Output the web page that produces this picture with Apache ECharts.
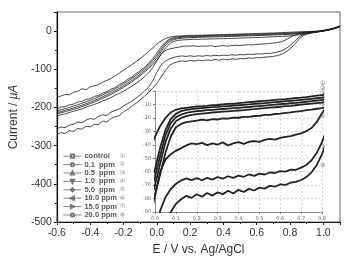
<!DOCTYPE html>
<html>
<head>
<meta charset="utf-8">
<script src="https://cdn.jsdelivr.net/npm/echarts@6/dist/echarts.min.js"></script>
<style>
  html, body { margin: 0; padding: 0; background: #fff; }
  #chart { width: 347px; height: 261px; }
</style>
</head>
<body>
<div id="chart"></div>
<script>
// potential, V vs. Ag/AgCl
const potential = [-0.6,-0.575,-0.55,-0.525,-0.5,-0.475,-0.45,-0.425,-0.4,-0.375,-0.35,-0.325,-0.3,-0.275,-0.25,-0.225,-0.2,-0.175,-0.15,-0.125,-0.1,-0.075,-0.05,-0.025,
  0,0.025,0.05,0.075,0.1,0.125,0.15,0.175,0.2,0.225,0.25,0.275,0.3,0.325,0.35,0.375,0.4,0.425,0.45,0.475,0.5,0.525,0.55,0.575,0.6,0.625,0.65,0.675,0.7,0.725,0.75,0.775,0.8,
  0.825,0.85,0.875,0.9,0.925,0.95,0.975,1,1.025,1.05,1.075,1.1];

// current, uA
const cControl = [-173,-170,-166,-167,-160,-158,-151,-154,-146,-143,-140,-134,-129,-124,-117,-110,-102,-95,-88,-80,-72,-63,-54,-44,
  -34,-26,-20,-16,-14,-13,-12.5,-12,-11.5,-11.3,-11,-10.5,-10.4,-10,-9.6,-9.5,-9,-8.7,-8.3,-8,-7.6,-7.3,-7,-6.6,-6.3,-6,-5.6,-5.2,-4.9,-4.5,-4,-3.5,-3,
  -2.5,-2,-1.6,-1.2,-0.8,-0.3,0.5,2,4,6.5,9.5,14];
const c01 = [-204,-199,-198,-193,-191,-186,-184,-179,-177,-171,-169,-162,-159,-152,-148,-140,-135,-126,-121,-111,-104,-95,-85,-72,
  -58,-42,-29,-21,-17,-15,-14,-13.5,-13,-12.7,-12.4,-12,-11.8,-11.5,-11.2,-10.9,-10.6,-10.3,-10,-9.6,-9.3,-9,-8.6,-8.3,-8,-7.6,-7.3,-7,-6.6,-6.2,-5.8,-5.4,-5,
  -4.5,-3.8,-3.2,-2.5,-1.8,-1,0,1.5,3.5,6,9,13];
const c05 = [-209,-206,-203,-200,-196,-193,-189,-185,-181,-177,-172,-167,-162,-157,-151,-145,-138,-131,-124,-116,-108,-99,-89,-77,
  -64,-48,-33,-24,-19.5,-17.5,-16.3,-15.5,-15,-14.7,-14.3,-14,-13.7,-13.4,-13.1,-12.8,-12.5,-12.2,-11.9,-11.5,-11.2,-10.9,-10.5,-10.2,-9.8,-9.5,-9.1,-8.8,-8.4,-8,-7.6,-7.1,-6.7,
  -6,-5.2,-4.4,-3.6,-2.7,-1.7,-0.5,1,3,5.5,8.5,12.5];
const c10 = [-213,-211,-207,-205,-201,-198,-194,-190,-186,-182,-177,-172,-167,-162,-156,-150,-143,-136,-129,-121,-113,-104,-94,-83,
  -70,-54,-38,-28,-22.5,-20,-18.7,-17.8,-17.2,-16.8,-16.4,-16,-15.7,-15.4,-15.1,-14.8,-14.5,-14.2,-13.8,-13.5,-13.1,-12.8,-12.4,-12.1,-11.7,-11.3,-11,-10.6,-10.2,-9.8,-9.4,-9,-8.6,
  -7.8,-6.8,-5.8,-4.7,-3.5,-2.3,-1,0.5,2.5,5,8,12];
const c50 = [-216,-214,-211,-208,-205,-202,-198,-194,-190,-186,-181,-176,-171,-166,-160,-154,-147,-140,-133,-125,-117,-108,-98,-88,
  -77,-62,-46,-34,-27,-24.5,-23.2,-22.6,-22,-21.3,-21.8,-20.9,-21.2,-20.4,-20.6,-19.8,-19.9,-19.2,-19.3,-18.6,-18.5,-17.8,-17.7,-17.1,-16.8,-16.2,-15.9,-15.3,-14.9,-14.3,-13.8,-13.2,-12.7,
  -11.5,-10,-8.4,-6.8,-5,-3.3,-1.6,0,2,4.5,7.5,11.5];
const c100 = [-222,-219,-217,-213,-210,-207,-204,-199,-196,-192,-188,-183,-179,-174,-168,-163,-157,-151,-144,-137,-129,-120,-110,-96,
  -78,-60,-51,-47,-44.5,-42.5,-40.5,-39,-39.5,-38.6,-40.2,-38.9,-39.8,-38.2,-40.5,-39,-38.1,-39.3,-37.8,-37.2,-37.9,-36.4,-35.6,-36.2,-34.8,-34.1,-33.6,-32.4,-31.5,-29.8,-27.5,-23,-16.5,
  -11,-7.5,-5.4,-4,-3,-2,-0.8,0.8,3,5.5,8.5,12.5];
const c150 = [-256,-251,-253,-246,-244,-238,-240,-233,-229,-231,-223,-219,-221,-212,-208,-204,-196,-190,-183,-176,-167,-158,-147,-131,
  -108,-89,-79,-73,-69,-66.5,-65,-66.3,-64.8,-66.4,-64.6,-65.9,-64,-65.2,-63.4,-64.6,-63,-63.8,-62.1,-63.1,-61.5,-62.1,-60.6,-61,-59.6,-59.9,-58.5,-58.6,-57,-55,-51.5,-46,-38,
  -28,-17,-10,-6.5,-4.3,-2.8,-1.3,0.5,2.5,5,8,12];
const c200 = [-270,-266,-268,-261,-263,-255,-257,-249,-251,-244,-245,-236,-238,-229,-224,-222,-211,-205,-197,-189,-180,-171,-161,-150,
  -137,-121,-104,-90,-84,-80.5,-78,-79.5,-76.8,-78.6,-75.9,-77.8,-75.4,-76.7,-74.2,-76.3,-73.5,-75.1,-72.8,-74,-71.9,-72.6,-70.5,-71.2,-69.4,-69.9,-68.1,-67.6,-66.2,-64,-60.5,-55,-47,
  -36,-23,-13,-8,-5,-3.2,-1.5,0.3,2.3,4.8,7.8,11.8];

const seriesNames = ['control', '0.1  ppm', '0.5  ppm', '1.0  ppm', '5.0  ppm', '10.0 ppm', '15.0 ppm', '20.0 ppm'];
const seriesMarks = ['①', '②', '③', '④', '⑤', '⑥', '⑦', '⑧'];
const currents = [cControl, c01, c05, c10, c50, c100, c150, c200];

const mainXTicks = [-0.6, 1.1, 0.2];   // min, max, interval
const mainYTicks = [-500, 50, 100];
const insetXTicks = [0, 0.8, 0.1];
const insetYTicks = [-90, 0, 10];

const symbols = ['emptyRect', 'emptyCircle', 'emptyTriangle', 'emptyTriangle', 'emptyDiamond', 'emptyTriangle', 'emptyTriangle', 'emptyCircle'];
const symbolRot = [0, 0, 0, 180, 0, 90, -90, 0];

const chart = echarts.init(document.getElementById('chart'));

const series = [];
currents.forEach((vals, k) => {
  const pts = potential.map((x, i) => [x, vals[i]]);
  series.push({
    name: seriesNames[k], type: 'line', xAxisIndex: 0, yAxisIndex: 0,
    data: pts, symbol: symbols[k], symbolRotate: symbolRot[k], symbolSize: 3,
    showSymbol: false, silent: true,
    lineStyle: { color: '#1a1a1a', width: 0.8 },
    itemStyle: { color: '#777', borderWidth: 0.8 }
  });
  series.push({
    name: seriesNames[k], type: 'line', xAxisIndex: 1, yAxisIndex: 1,
    data: pts, showSymbol: false, clip: true, silent: true,
    lineStyle: { color: '#222', width: 1.8 }
  });
});

// circled numbers at the right end of the inset curves
const markY = [83, 88, 93, 98, 104, 116, 147, 165];
const graphics = seriesMarks.map((m, k) => ({
  type: 'text', left: 320, top: markY[k] - 3,
  style: { text: m, font: '6px "DejaVu Sans"', fill: '#666' }
}));

chart.setOption({
  animation: false,
  backgroundColor: '#fff',
  grid: [
    { left: 51, right: 7, top: 12, bottom: 37, show: true, borderColor: '#666', borderWidth: 1 },
    { left: 155, top: 91, width: 167, height: 121 }
  ],
  legend: {
    orient: 'vertical', left: 58, top: 147, itemWidth: 18, itemHeight: 4, itemGap: 0,
    data: seriesNames,
    lineStyle: { color: '#777', width: 0.9 },
    itemStyle: { color: '#777', borderWidth: 0.8 },
    formatter: name => '{a|' + name + '}{b|' + seriesMarks[seriesNames.indexOf(name)] + '}',
    textStyle: {
      padding: [0, 0, 0, -2], lineHeight: 8.4,
      rich: {
        a: { fontFamily: 'Liberation Sans', fontSize: 7.5, fontWeight: 'bold', color: '#555', width: 35, lineHeight: 8.4 },
        b: { fontFamily: 'DejaVu Sans', fontSize: 6.5, color: '#888', lineHeight: 8.4 }
      }
    }
  },
  xAxis: [
    {
      type: 'value', gridIndex: 0, min: mainXTicks[0], max: mainXTicks[1], interval: mainXTicks[2],
      name: 'E / V vs. Ag/AgCl', nameLocation: 'middle', nameGap: 22,
      nameTextStyle: { fontFamily: 'Liberation Sans', fontSize: 12, color: '#333' },
      axisLine: { onZero: false, lineStyle: { color: '#111', width: 1.2 } },
      axisTick: { length: 3, lineStyle: { color: '#111' } },
      minorTick: { show: true, splitNumber: 2, length: 2, lineStyle: { color: '#111' } },
      axisLabel: { showMaxLabel: false, margin: 6, fontFamily: 'Liberation Sans', fontSize: 10.5, color: '#333', formatter: v => v.toFixed(1) },
      splitLine: { show: false }
    },
    {
      type: 'value', gridIndex: 1, min: insetXTicks[0], max: insetXTicks[1], interval: insetXTicks[2],
      axisLine: { onZero: false, lineStyle: { color: '#777', width: 0.8 } },
      axisTick: { length: 2, lineStyle: { color: '#777' } },
      axisLabel: { margin: 4, showMinLabel: true, showMaxLabel: true, fontFamily: 'DejaVu Sans', fontSize: 5, color: '#666', formatter: v => v.toFixed(1) },
      splitLine: { show: true, lineStyle: { color: '#bbb', width: 0.6, type: [2, 2] } }
    }
  ],
  yAxis: [
    {
      type: 'value', gridIndex: 0, min: mainYTicks[0], max: mainYTicks[1], interval: mainYTicks[2],
      name: 'Current / {i|μA}', nameLocation: 'middle', nameGap: 34,
      nameTextStyle: { fontFamily: 'Liberation Sans', fontSize: 12, color: '#333',
        rich: { i: { fontFamily: 'Liberation Sans', fontSize: 12, fontStyle: 'italic', color: '#333' } } },
      axisLine: { onZero: false, lineStyle: { color: '#111', width: 1.2 } },
      axisTick: { length: 3, lineStyle: { color: '#111' } },
      minorTick: { show: true, splitNumber: 2, length: 2, lineStyle: { color: '#111' } },
      axisLabel: { showMaxLabel: false, margin: 5, fontFamily: 'Liberation Sans', fontSize: 10.5, color: '#333' },
      splitLine: { show: false }
    },
    {
      type: 'value', gridIndex: 1, min: insetYTicks[0], max: insetYTicks[1], interval: insetYTicks[2],
      axisLine: { onZero: false, lineStyle: { color: '#777', width: 0.8 } },
      axisTick: { length: 2, lineStyle: { color: '#777' } },
      axisLabel: { margin: 4, showMinLabel: true, showMaxLabel: true, fontFamily: 'DejaVu Sans', fontSize: 5, color: '#666' },
      splitLine: { show: true, lineStyle: { color: '#bbb', width: 0.6, type: [2, 2] } }
    }
  ],
  graphic: graphics,
  series: series
});
</script>
</body>
</html>
